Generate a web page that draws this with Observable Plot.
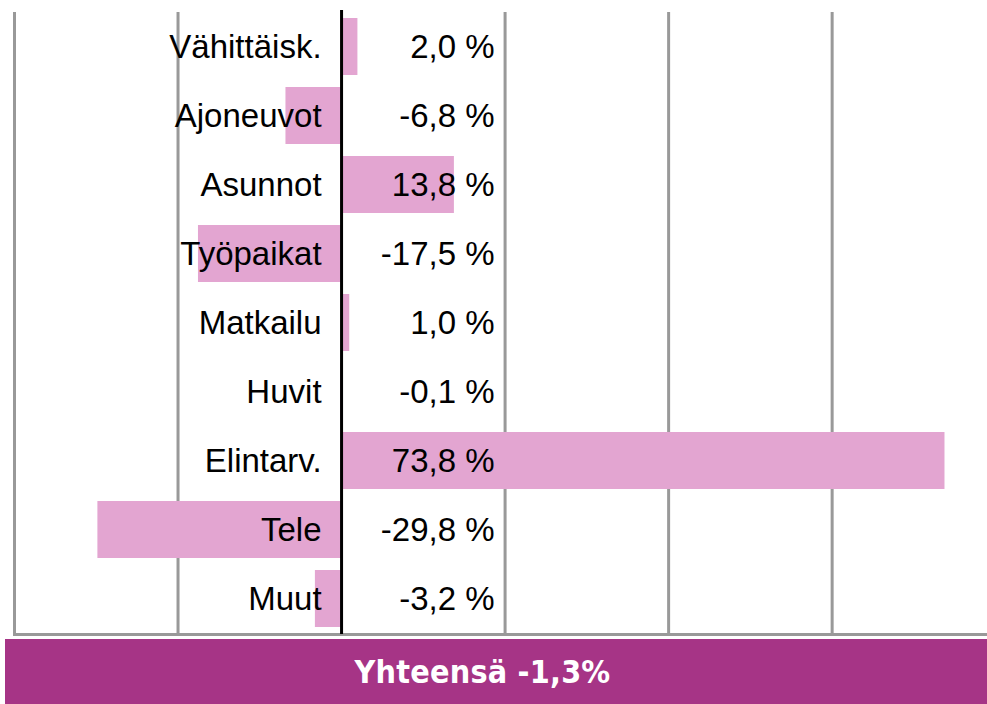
<!DOCTYPE html>
<html><head><meta charset="utf-8">
<script src="https://cdn.jsdelivr.net/npm/d3@7"></script>
<script src="https://cdn.jsdelivr.net/npm/@observablehq/plot@0.6"></script>
<style>
body{margin:0;background:#fff;}
#chart svg{display:block;}
#banner{margin:2px 0 0 5px;width:955px;padding-right:27px;height:65px;background:#A63486;color:#fff;font-family:"DejaVu Sans Condensed","DejaVu Sans",sans-serif;font-stretch:condensed;font-weight:bold;font-size:32px;letter-spacing:0.2px;display:flex;align-items:center;justify-content:center;}
</style></head>
<body><div id="chart"></div><div id="banner"></div>
<script>
const categories = ["Vähittäisk.", "Ajoneuvot", "Asunnot", "Työpaikat", "Matkailu", "Huvit", "Elintarv.", "Tele", "Muut"];
const values = [2.0, -6.8, 13.8, -17.5, 1.0, -0.1, 73.8, -29.8, -3.2];
const gridTicks = [-40, -20, 20, 40, 60];
const totalLabel = "Yhteensä -1,3%";

const data = categories.map((c, i) => ({cat: c, value: values[i]}));
const fmt = v => v.toFixed(1).replace(".", ",") + " %";

const chart = Plot.plot({
  width: 987, height: 637,
  marginLeft: 14, marginRight: 0, marginTop: 10, marginBottom: 3,
  x: {domain: [-40, 79], axis: null},
  y: {domain: categories, axis: null, paddingInner: 0.18, paddingOuter: 0.09},
  style: {fontFamily: "'Liberation Sans', Arial, sans-serif", fontSize: "33px", background: "transparent", color: "#000"},
  marks: [
    Plot.ruleX(gridTicks, {stroke: "#999", strokeWidth: 3, insetTop: 2, insetBottom: -1}),
    Plot.barX(data, {x: "value", y: "cat", fill: "#E3A5D1"}),
    Plot.frame({anchor: "bottom", stroke: "#999", strokeWidth: 3}),
    Plot.ruleX([0], {stroke: "#000", strokeWidth: 3}),
    Plot.text(data, {x: 0, y: "cat", text: "cat", textAnchor: "end", dx: -20, fill: "#000", fontSize: 33}),
    Plot.text(data, {x: 0, y: "cat", text: d => fmt(d.value), textAnchor: "end", dx: 153, fill: "#000", fontSize: 33})
  ]
});
document.getElementById("chart").appendChild(chart);
document.getElementById("banner").textContent = totalLabel;
</script>
</body></html>
